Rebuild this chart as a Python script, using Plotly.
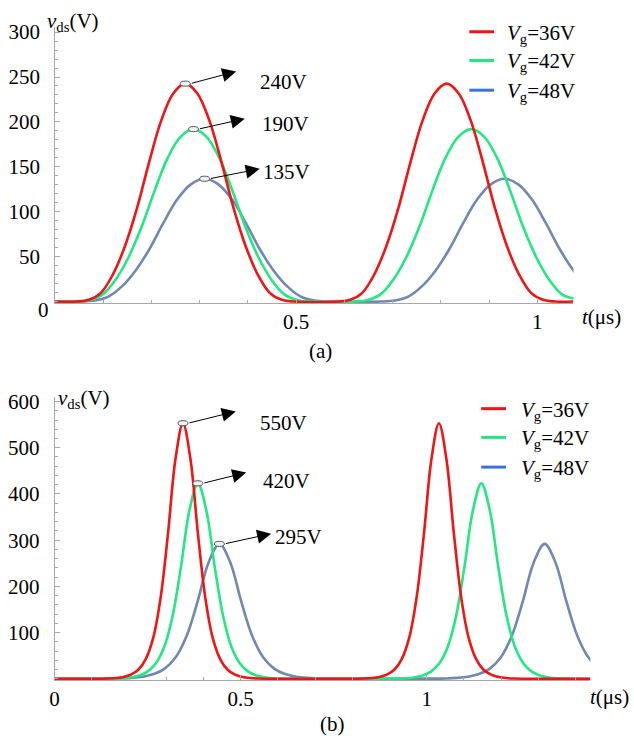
import plotly.graph_objects as go

# ---------------- data ----------------
# panel (a): time (us) and v_ds (V), one sample list per curve
t_red_a = [0.0, 0.045, 0.07, 0.095, 0.12, 0.145, 0.17, 0.195, 0.22, 0.245, 0.27, 0.295,
           0.32, 0.345, 0.37, 0.395, 0.42, 0.445, 0.47, 0.495,
           0.587, 0.612, 0.637, 0.662, 0.687, 0.712, 0.737, 0.762, 0.787, 0.812, 0.837,
           0.862, 0.887, 0.912, 0.937, 0.962, 0.987, 1.012, 1.037, 1.075]
v_red_a = [0, 0, 1.9, 9.7, 30.3, 61.9, 104.3, 155.3, 201.4, 231.7, 242.6, 231.7,
           201.4, 155.3, 104.3, 61.9, 30.3, 9.7, 1.9, 0,
           0, 1.9, 9.7, 30.3, 61.9, 104.3, 155.3, 201.4, 231.7, 242.6, 231.7,
           201.4, 155.3, 104.3, 61.9, 30.3, 9.7, 1.9, 0, 0]

t_green_a = [0.0, 0.044, 0.071, 0.098, 0.125, 0.152, 0.179, 0.206, 0.233, 0.26, 0.287, 0.314,
             0.341, 0.368, 0.395, 0.422, 0.449, 0.476, 0.503, 0.53,
             0.62, 0.647, 0.674, 0.701, 0.728, 0.755, 0.782, 0.809, 0.836, 0.863, 0.89,
             0.917, 0.944, 0.971, 0.998, 1.025, 1.052, 1.079]
v_green_a = [0, 0, 1.5, 7.7, 24.0, 49.0, 82.6, 122.9, 159.4, 183.4, 192.0, 183.4,
             159.4, 122.9, 82.6, 49.0, 24.0, 7.7, 1.5, 0,
             0, 1.5, 7.7, 24.0, 49.0, 82.6, 122.9, 159.4, 183.4, 192.0, 183.4,
             159.4, 122.9, 82.6, 49.0, 24.0, 7.7, 3.0]

t_blue_a = [0.0, 0.0535, 0.082, 0.1105, 0.139, 0.1675, 0.196, 0.2245, 0.253, 0.2815, 0.31,
            0.3385, 0.367, 0.3955, 0.424, 0.4525, 0.481, 0.5095, 0.538, 0.5665,
            0.6755, 0.704, 0.7325, 0.761, 0.7895, 0.818, 0.8465, 0.875, 0.9035, 0.932,
            0.9605, 0.989, 1.0175, 1.046, 1.0745, 1.103]
v_blue_a = [0, 0, 1.1, 5.5, 17.1, 34.9, 58.8, 87.5, 113.5, 130.5, 136.7,
            130.5, 113.5, 87.5, 58.8, 34.9, 17.1, 5.5, 1.1, 0,
            0, 1.1, 5.5, 17.1, 34.9, 58.8, 87.5, 113.5, 130.5, 136.7,
            130.5, 113.5, 87.5, 58.8, 34.9, 17.1]

# panel (b)
t_red_b = [0.0, 0.145, 0.165, 0.185, 0.205, 0.225, 0.245, 0.265, 0.285, 0.305, 0.325, 0.345,
           0.365, 0.385, 0.405, 0.425, 0.445, 0.465, 0.485, 0.505, 0.525, 0.545,
           0.833, 0.853, 0.873, 0.893, 0.913, 0.933, 0.953, 0.973, 0.993, 1.013, 1.033,
           1.053, 1.073, 1.093, 1.113, 1.133, 1.153, 1.173, 1.193, 1.213, 1.233, 1.44]
v_red_b = [0, 0.9, 1.9, 4.2, 9.1, 19.7, 42.8, 88.6, 175.9, 316.0, 476.1, 553.0,
           476.1, 316.0, 175.9, 88.6, 42.8, 19.7, 9.1, 4.2, 1.9, 0.9,
           0.9, 1.9, 4.2, 9.1, 19.7, 42.8, 88.6, 175.9, 316.0, 476.1, 553.0,
           476.1, 316.0, 175.9, 88.6, 42.8, 19.7, 9.1, 4.2, 1.9, 0.9, 0]

t_green_b = [0.0, 0.1575, 0.1803, 0.203, 0.2258, 0.2485, 0.2713, 0.294, 0.3168, 0.3395, 0.3623,
             0.385, 0.4078, 0.4305, 0.4533, 0.476, 0.4988, 0.5215, 0.5443, 0.567, 0.5898, 0.6125,
             0.9195, 0.9423, 0.965, 0.9878, 1.0105, 1.0333, 1.056, 1.0788, 1.1015, 1.1243,
             1.147, 1.1698, 1.1925, 1.2153, 1.238, 1.2608, 1.2835, 1.3063, 1.329, 1.3518,
             1.3745, 1.44]
v_green_b = [0, 0.7, 1.5, 3.2, 7.0, 15.1, 32.7, 67.8, 134.5, 241.7, 364.2,
             423.0, 364.2, 241.7, 134.5, 67.8, 32.7, 15.1, 7.0, 3.2, 1.5, 0.7,
             0.7, 1.5, 3.2, 7.0, 15.1, 32.7, 67.8, 134.5, 241.7, 364.2,
             423.0, 364.2, 241.7, 134.5, 67.8, 32.7, 15.1, 7.0, 3.2, 1.5,
             0.7, 0.2]

t_blue_b = [0.0, 0.149, 0.1784, 0.2078, 0.2372, 0.2666, 0.296, 0.3254, 0.3548, 0.3842, 0.4136,
            0.443, 0.4724, 0.5018, 0.5312, 0.5606, 0.59, 0.6194, 0.6488, 0.6782, 0.7076, 0.737,
            1.023, 1.0524, 1.0818, 1.1112, 1.1406, 1.17, 1.1994, 1.2288, 1.2582, 1.2876,
            1.317, 1.3464, 1.3758, 1.4052, 1.4346, 1.464]
v_blue_b = [0, 0.5, 1.0, 2.2, 4.8, 10.4, 22.3, 46.7, 92.9, 166.9, 251.4,
            292.0, 251.4, 166.9, 92.9, 46.7, 22.3, 10.4, 4.8, 2.2, 1.0, 0.5,
            0.5, 1.0, 2.2, 4.8, 10.4, 22.3, 46.7, 92.9, 166.9, 251.4,
            292.0, 251.4, 166.9, 92.9, 46.7, 22.3]

# first-pulse peaks and their value labels
peak_t_a = [0.270, 0.287, 0.310]
peak_v_a = [242.6, 192.0, 136.7]
peak_lbl_a = ["240V", "190V", "135V"]
peak_t_b = [0.345, 0.385, 0.443]
peak_v_b = [553.0, 423.0, 292.0]
peak_lbl_b = ["550V", "420V", "295V"]

series_names = ["<i>V</i><sub>g</sub>=36V", "<i>V</i><sub>g</sub>=42V", "<i>V</i><sub>g</sub>=48V"]

# ---------------- style ----------------
W, H = 634, 741
FONT = "Liberation Serif, Times New Roman, Times, serif"
curve_cols = ["#f01414", "#22e882", "#7088b2"]   # red, green, blue-grey
legend_cols = ["#f01414", "#22e882", "#3d6fe8"]
AXC = "#a8a8a8"


def px(x):
    return x / W


def py(y):
    return 1 - y / H


fig = go.Figure()
panel_a = [(t_blue_a, v_blue_a, curve_cols[2]), (t_green_a, v_green_a, curve_cols[1]),
           (t_red_a, v_red_a, curve_cols[0])]
panel_b = [(t_blue_b, v_blue_b, curve_cols[2]), (t_green_b, v_green_b, curve_cols[1]),
           (t_red_b, v_red_b, curve_cols[0])]
for tt, vv, col in panel_a:
    fig.add_trace(go.Scatter(x=tt, y=vv, mode="lines", xaxis="x", yaxis="y",
                             line=dict(color=col, width=2.6, shape="spline", smoothing=1.0),
                             showlegend=False, hoverinfo="skip"))
for tt, vv, col in panel_b:
    fig.add_trace(go.Scatter(x=tt, y=vv, mode="lines", xaxis="x2", yaxis="y2",
                             line=dict(color=col, width=2.6, shape="spline", smoothing=1.0),
                             showlegend=False, hoverinfo="skip"))

tickfont = dict(family=FONT, size=21, color="black")
common = dict(showgrid=False, zeroline=False, showline=True, linecolor=AXC, linewidth=1,
              ticks="inside", tickcolor=AXC, tickwidth=1, tickfont=tickfont)

fig.update_layout(
    width=W, height=H, margin=dict(l=0, r=0, t=0, b=0),
    paper_bgcolor="white", plot_bgcolor="white", showlegend=False,
    font=dict(family=FONT, size=21, color="black"),
    xaxis=dict(domain=[px(50.5), px(573)], range=[0, 1.075], anchor="y",
               tickmode="array", tickvals=[0.5, 1], ticktext=["0.5", "1"], ticklen=5,
               ticklabelstandoff=0,
               minor=dict(tickmode="linear", tick0=0, dtick=0.1, ticks="inside", ticklen=3,
                          tickcolor=AXC, showgrid=False),
               **common),
    yaxis=dict(domain=[py(298.7), py(19.9)], range=[-1.5, 306], anchor="x",
               tickmode="array", tickvals=[50, 100, 150, 200, 250, 300], ticklen=5,
               ticklabelstandoff=10,
               minor=dict(tickmode="linear", tick0=0, dtick=10, ticks="inside", ticklen=3,
                          tickcolor=AXC, showgrid=False),
               **common),
    xaxis2=dict(domain=[px(50), px(590)], range=[0, 1.44], anchor="y2",
                tickmode="array", tickvals=[0, 0.5, 1], ticktext=["0", "0.5", "1"], ticklen=5,
                ticklabelstandoff=0,
                minor=dict(tickmode="linear", tick0=0, dtick=0.1, ticks="inside", ticklen=3,
                           tickcolor=AXC, showgrid=False),
                **common),
    yaxis2=dict(domain=[py(679.7), py(393.6)], range=[-3, 610], anchor="x2",
                tickmode="array", tickvals=[100, 200, 300, 400, 500, 600], ticklen=5,
                ticklabelstandoff=10,
                minor=dict(tickmode="linear", tick0=0, dtick=20, ticks="inside", ticklen=3,
                           tickcolor=AXC, showgrid=False),
                **common),
)

ann = []
shapes = []


def txt(x, y, s, xanchor="left", size=21, xref="paper", yref="paper"):
    ann.append(dict(x=x, y=y, xref=xref, yref=yref, text=s, showarrow=False,
                    xanchor=xanchor, yanchor="middle",
                    font=dict(family=FONT, size=size, color="black")))


# axis titles and panel captions
txt(px(40), py(15), "<i>v</i><sub>ds</sub>(V)")
txt(px(51), py(396), "<i>v</i><sub>ds</sub>(V)")
txt(px(580), py(313), "<i>t</i>(μs)")
txt(px(588), py(697), "<i>t</i>(μs)")
txt(px(39), py(306), "0", xanchor="center")
txt(px(318), py(347), "(a)", xanchor="center")
txt(px(330), py(724), "(b)", xanchor="center")

# legends
for rows, x0, x1, xt in [([25, 54, 84], 468, 493, 504), ([405.5, 434.5, 464.5], 480, 505, 518)]:
    for r, col, name in zip(rows, legend_cols, series_names):
        shapes.append(dict(type="line", xref="paper", yref="paper",
                           x0=px(x0), x1=px(x1), y0=py(r), y1=py(r),
                           line=dict(color=col, width=3)))
        txt(px(xt), py(r + 2), name)

# peak ellipses, arrows and value labels
panel_specs = [
    ("x", "y", peak_t_a, peak_v_a, peak_lbl_a, 486.0, 0.9067,
     [(0.3755, 256.2), (0.3934, 203.6), (0.4243, 147.8)],
     [(0.421, 244.0), (0.425, 197.6), (0.427, 143.7)]),
    ("x2", "y2", peak_t_b, peak_v_b, peak_lbl_b, 375.0, 0.4667,
     [(0.487, 578.5), (0.515, 446.3), (0.582, 314.1)],
     [(0.547, 553.5), (0.555, 429.0), (0.587, 307.0)]),
]
for xr, yr, pts, pvs, lbls, kx, ky, tips, labpos in panel_specs:
    hw, hh = 5.0 / kx, 2.6 / ky
    for pt, pv, lb, tip, lp in zip(pts, pvs, lbls, tips, labpos):
        shapes.append(dict(type="circle", xref=xr, yref=yr,
                           x0=pt - hw, x1=pt + hw, y0=pv - hh, y1=pv + hh,
                           fillcolor="#eef2f7", line=dict(color="#555555", width=1)))
        ann.append(dict(x=tip[0], y=tip[1], xref=xr, yref=yr, ax=pt + hw, ay=pv,
                        axref=xr, ayref=yr, text="", showarrow=True, arrowhead=2,
                        arrowsize=2.8, arrowwidth=1, arrowcolor="black"))
        txt(lp[0], lp[1], lb, xref=xr, yref=yr)

fig.update_layout(annotations=ann, shapes=shapes)
fig.write_html("out.html")
